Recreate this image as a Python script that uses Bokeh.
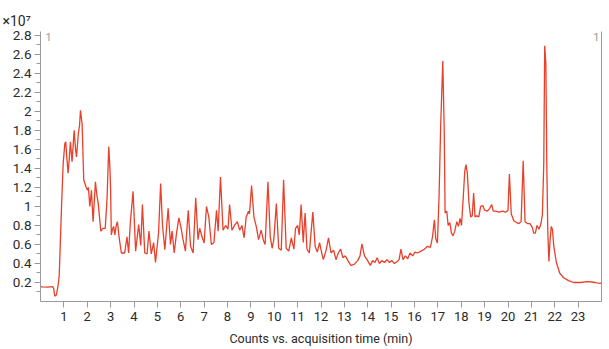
from bokeh.plotting import figure
from bokeh.models import Range1d, FixedTicker, PrintfTickFormatter, LinearAxis, Label, ColumnDataSource
from bokeh.embed import file_html
from bokeh.resources import INLINE

# acquisition time (min)
time_min = [
    0.00, 0.09, 0.30, 0.52, 0.56, 0.61, 0.68, 0.74, 0.80, 0.90, 0.97, 1.04, 1.08, 1.13, 1.18, 1.23,
    1.28, 1.35, 1.44, 1.50, 1.54, 1.62, 1.67, 1.71, 1.78, 1.85, 1.94, 2.01, 2.05, 2.11, 2.18, 2.25,
    2.35, 2.41, 2.46, 2.52, 2.58, 2.67, 2.77, 2.85, 2.92, 2.97, 3.00, 3.03, 3.08, 3.13, 3.18, 3.24,
    3.29, 3.36, 3.46, 3.60, 3.70, 3.77, 3.84, 3.96, 4.07, 4.20, 4.29, 4.36, 4.46, 4.56, 4.64, 4.74,
    4.84, 4.92, 5.05, 5.14, 5.22, 5.32, 5.46, 5.56, 5.63, 5.72, 5.82, 5.92, 6.00, 6.10, 6.20, 6.32,
    6.42, 6.53, 6.64, 6.74, 6.81, 6.91, 7.00, 7.10, 7.20, 7.31, 7.42, 7.53, 7.60, 7.70, 7.81, 7.92,
    8.02, 8.09, 8.19, 8.30, 8.42, 8.52, 8.62, 8.71, 8.80, 8.90, 8.94, 9.03, 9.13, 9.23, 9.33, 9.44,
    9.54, 9.61, 9.73, 9.83, 9.91, 9.98, 10.09, 10.19, 10.30, 10.40, 10.51, 10.62, 10.73, 10.84, 10.91, 11.00,
    11.07, 11.15, 11.24, 11.32, 11.40, 11.50, 11.65, 11.75, 11.84, 11.94, 12.03, 12.10, 12.22, 12.32, 12.43, 12.54,
    12.64, 12.74, 12.84, 12.94, 13.04, 13.15, 13.28, 13.42, 13.57, 13.67, 13.75, 13.86, 13.97, 14.11, 14.21, 14.31,
    14.40, 14.50, 14.60, 14.72, 14.82, 14.93, 15.03, 15.14, 15.26, 15.34, 15.42, 15.51, 15.61, 15.71, 15.81, 15.92,
    16.02, 16.13, 16.28, 16.42, 16.56, 16.68, 16.77, 16.85, 16.91, 16.98, 17.05, 17.12, 17.21, 17.27, 17.31, 17.38,
    17.44, 17.51, 17.58, 17.65, 17.72, 17.81, 17.88, 17.95, 18.01, 18.08, 18.15, 18.20, 18.26, 18.33, 18.40, 18.47,
    18.53, 18.59, 18.66, 18.75, 18.83, 18.92, 19.00, 19.12, 19.22, 19.30, 19.37, 19.47, 19.62, 19.76, 19.90, 20.00,
    20.06, 20.14, 20.25, 20.36, 20.47, 20.56, 20.65, 20.73, 20.83, 20.94, 21.04, 21.10, 21.17, 21.24, 21.33, 21.41,
    21.47, 21.53, 21.57, 21.62, 21.66, 21.70, 21.75, 21.79, 21.85, 21.90, 21.96, 22.07, 22.21, 22.38, 22.59, 22.81,
    23.10, 23.38, 23.60, 23.80, 24.00,
]

# counts (x10^7)
counts_e7 = [
    0.155, 0.154, 0.152, 0.156, 0.14, 0.056, 0.07, 0.15, 0.265, 1.00, 1.45, 1.66, 1.68, 1.50, 1.35, 1.50,
    1.68, 1.47, 1.80, 1.60, 1.52, 1.77, 1.85, 2.01, 1.87, 1.28, 1.21, 1.17, 1.20, 1.00, 1.17, 0.84,
    1.26, 1.12, 1.05, 0.90, 0.74, 0.77, 0.77, 1.10, 1.63, 1.40, 1.17, 0.70, 0.76, 0.79, 0.70, 0.80,
    0.84, 0.68, 0.51, 0.51, 0.68, 0.51, 0.82, 1.16, 0.53, 0.81, 0.59, 1.02, 0.51, 0.50, 0.74, 0.50,
    0.62, 0.41, 0.72, 1.24, 0.80, 0.545, 0.98, 0.60, 0.74, 0.51, 0.72, 0.88, 0.79, 0.65, 0.53, 0.96,
    0.58, 0.51, 1.09, 0.65, 0.77, 0.68, 0.615, 1.00, 0.89, 0.60, 0.62, 0.96, 0.74, 1.31, 0.75, 0.80,
    0.76, 1.02, 0.75, 0.80, 0.84, 0.75, 0.80, 0.67, 0.89, 0.95, 0.92, 1.22, 0.89, 0.79, 0.65, 0.75,
    0.64, 0.60, 1.26, 0.68, 0.56, 0.65, 1.03, 0.56, 0.54, 1.28, 0.56, 0.53, 0.67, 0.55, 0.77, 0.80,
    0.70, 1.02, 0.62, 0.93, 0.55, 0.51, 0.94, 0.58, 0.52, 0.62, 0.51, 0.44, 0.54, 0.67, 0.51, 0.54,
    0.44, 0.51, 0.55, 0.46, 0.48, 0.43, 0.38, 0.39, 0.43, 0.48, 0.605, 0.48, 0.44, 0.38, 0.43, 0.41,
    0.46, 0.40, 0.43, 0.41, 0.44, 0.41, 0.43, 0.40, 0.42, 0.44, 0.55, 0.44, 0.48, 0.45, 0.51, 0.48,
    0.52, 0.51, 0.53, 0.55, 0.58, 0.57, 0.68, 0.86, 0.66, 0.615, 1.10, 1.85, 2.53, 1.82, 0.93, 0.95,
    0.80, 0.83, 0.72, 0.69, 0.74, 0.84, 0.79, 0.875, 0.80, 1.07, 1.37, 1.44, 1.35, 1.04, 0.89, 0.90,
    1.14, 0.89, 0.90, 0.89, 1.00, 1.01, 0.96, 0.95, 0.98, 1.02, 0.95, 0.95, 0.94, 0.95, 0.94, 0.96,
    1.34, 0.92, 0.85, 0.83, 0.82, 0.84, 1.48, 0.84, 0.82, 0.82, 0.78, 0.72, 0.72, 0.80, 0.76, 0.82,
    0.91, 1.45, 2.69, 2.50, 1.45, 0.76, 0.42, 0.61, 0.79, 0.76, 0.58, 0.41, 0.30, 0.25, 0.22, 0.20,
    0.20, 0.21, 0.205, 0.195, 0.19,
]

x_ticks = list(range(1, 24))
y_ticks = [0.2, 0.4, 0.6, 0.8, 1.0, 1.2, 1.4, 1.6, 1.8, 2.0, 2.2, 2.4, 2.6, 2.8]
y_minor = [0.1, 0.3, 0.5, 0.7, 0.9, 1.1, 1.3, 1.5, 1.7, 1.9, 2.1, 2.3, 2.5, 2.7]

x_label = "Counts vs. acquisition time (min)"
scale_label = "\u00d710\u2077"
FONT = "Roboto"
AXIS_GRAY = "#9a9a9a"
TEXT = "#2a2a2a"

p = figure(width=609, height=349, output_backend="svg", toolbar_location=None,
           x_range=Range1d(0, 24.0), y_range=Range1d(0, 2.84),
           min_border_left=40, min_border_right=8, min_border_top=31, min_border_bottom=48,
           x_axis_label=x_label, title=scale_label)
p.outline_line_color = None
p.xgrid.visible = False
p.ygrid.visible = False
p.background_fill_color = "white"
p.border_fill_color = "white"

p.title.align = "left"
p.title.offset = -38
p.title.text_font = FONT
p.title.text_font_size = "14px"
p.title.text_font_style = "normal"
p.title.text_color = TEXT
p.title.standoff = 5

src = ColumnDataSource(dict(t=time_min, c=counts_e7))
p.line("t", "c", source=src, line_color="#e8402a", line_width=1.3)

xa = p.xaxis[0]
xa.ticker = FixedTicker(ticks=x_ticks)
xa.axis_line_color = AXIS_GRAY
xa.major_tick_line_color = AXIS_GRAY
xa.major_tick_in = 0
xa.major_tick_out = 6
xa.minor_tick_line_color = None
xa.major_label_text_font = FONT
xa.major_label_text_font_size = "13px"
xa.major_label_text_color = TEXT
xa.major_label_standoff = 4
xa.axis_label_text_font = FONT
xa.axis_label_text_font_size = "12.5px"
xa.axis_label_text_font_style = "normal"
xa.axis_label_text_color = TEXT
xa.axis_label_standoff = 7

ya = p.yaxis[0]
ya.ticker = FixedTicker(ticks=y_ticks, minor_ticks=y_minor)
ya.formatter = PrintfTickFormatter(format="%g")
ya.axis_line_color = AXIS_GRAY
ya.major_tick_line_color = AXIS_GRAY
ya.minor_tick_line_color = AXIS_GRAY
ya.major_tick_in = 0
ya.major_tick_out = 6
ya.minor_tick_in = 0
ya.minor_tick_out = 4
ya.major_label_text_font = FONT
ya.major_label_text_font_size = "13.5px"
ya.major_label_text_color = TEXT
ya.major_label_standoff = 3

ra = LinearAxis(ticker=FixedTicker(ticks=[]), major_label_text_font_size="0px",
                axis_line_color=AXIS_GRAY, major_tick_line_color=None, minor_tick_line_color=None)
p.add_layout(ra, "right")

for lx, ly, txt, align in [(5, 261, "1", "left"), (559, 261, "1", "right")]:
    p.add_layout(Label(x=lx, y=ly, x_units="screen", y_units="screen", text=txt,
                       text_font=FONT, text_font_size="11px", text_color="#999999", text_align=align))

open("out.html", "w").write(file_html(p, INLINE))
